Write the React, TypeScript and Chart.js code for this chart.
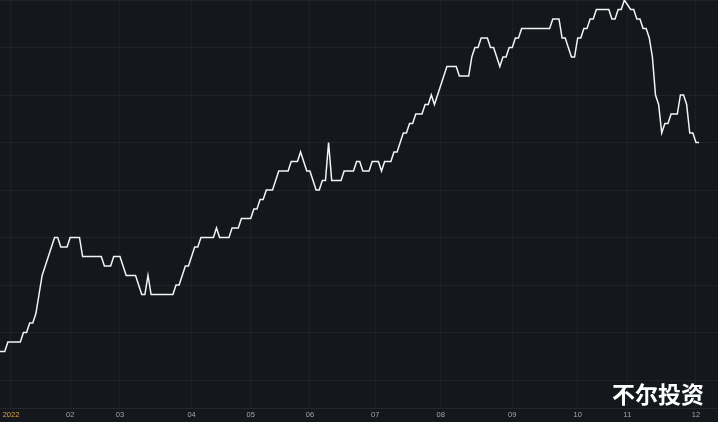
import { useEffect, useRef } from "react";
import { Chart, registerables } from "chart.js";

Chart.register(...registerables);

// Trading-day index (0 = 2021-12-29) of each vertex of the line
const tradingDay = [
  -1, 1, 2, 6, 7, 8, 9, 10, 11, 12, 13, 15, 17, 18, 19, 21, 22, 25, 26, 32,
  33, 35, 36, 38, 40, 43, 45, 46, 47, 48, 55, 56, 57, 59, 60, 62, 63, 64, 68, 69,
  70, 73, 74, 76, 77, 80, 81, 82, 83, 84, 85, 87, 89, 92, 93, 95, 96, 98, 99, 101,
  102, 103, 104, 105, 106, 109, 110, 113, 114, 115, 116, 118, 119, 121, 122, 123, 125, 126, 127, 129,
  130, 131, 132, 133, 135, 136, 137, 138, 139, 143, 146, 147, 150, 151, 152, 153, 154, 156, 157, 158,
  160, 161, 162, 163, 164, 165, 166, 167, 176, 177, 179, 180, 181, 183, 184, 185, 186, 187, 188, 189,
  190, 191, 195, 196, 197, 198, 199, 200, 202, 203, 204, 205, 206, 207, 208, 209, 210, 211, 212, 213,
  214, 215, 217, 218, 219, 220, 221, 222, 223, 224,
];

// Value at each vertex (in price steps)
const level = [
  3, 3, 4, 4, 5, 5, 6, 6, 7, 9, 11, 13, 15, 15, 14, 14, 15, 15, 13, 13,
  12, 12, 13, 13, 11, 11, 9, 9, 11, 9, 9, 10, 10, 12, 12, 14, 14, 15, 15, 16,
  15, 15, 16, 16, 17, 17, 18, 18, 19, 19, 20, 20, 22, 22, 23, 23, 24, 22, 22, 20,
  20, 21, 21, 25, 21, 21, 22, 22, 23, 23, 22, 22, 23, 23, 22, 23, 23, 24, 24, 26,
  26, 27, 27, 28, 28, 29, 29, 30, 29, 33, 33, 32, 32, 34, 35, 35, 36, 36, 35, 35,
  33, 34, 34, 35, 35, 36, 36, 37, 37, 38, 38, 36, 36, 34, 34, 36, 36, 37, 37, 38,
  38, 39, 39, 38, 38, 39, 39, 40, 39, 39, 38, 38, 37, 37, 36, 34, 30, 29, 26, 27,
  27, 28, 28, 30, 30, 29, 26, 26, 25, 25,
];

// First trading day of each month and its label
const monthStartDay = [3, 22, 38, 61, 80, 99, 120, 141, 164, 185, 201, 223];
const monthLabels = ["2022", "02", "03", "04", "05", "06", "07", "08", "09", "10", "11", "12"];

// Horizontal grid levels
const levelGrid = [0, 5, 10, 15, 20, 25, 30, 35, 40];

export default function App() {
  const ref = useRef<HTMLCanvasElement>(null);

  useEffect(() => {
    const chart = new Chart(ref.current as HTMLCanvasElement, {
      type: "line",
      data: {
        datasets: [
          {
            data: tradingDay.map((d, i) => ({ x: d, y: level[i] })),
            borderColor: "#f4f4f4",
            borderWidth: 1.5,
            pointRadius: 0,
            tension: 0,
            fill: false,
          },
        ],
      },
      options: {
        animation: false,
        responsive: false,
        maintainAspectRatio: false,
        layout: { padding: 0 },
        plugins: {
          legend: { display: false },
          tooltip: { enabled: false },
        },
        scales: {
          x: {
            type: "linear",
            min: -0.53,
            max: 230.07,
            afterBuildTicks: (s: any) => {
              s.ticks = monthStartDay.map((v) => ({ value: v }));
            },
            afterFit: (s: any) => {
              s.paddingLeft = 0;
              s.paddingRight = 0;
            },
            grid: {
              color: "rgba(255,255,255,0.035)",
              drawTicks: false,
              tickLength: 0,
            },
            border: { display: true, color: "rgba(255,255,255,0.07)" },
            ticks: {
              autoSkip: false,
              maxRotation: 0,
              minRotation: 0,
              padding: 2.5,
              font: { family: "'Liberation Sans', Arial, sans-serif", size: 7.5 },
              color: (c: any) => (c.index === 0 ? "#e3a13e" : "#a3a6ad"),
              callback: (_v: any, i: number) => monthLabels[i],
            },
          },
          y: {
            type: "linear",
            min: -2.947,
            max: 40,
            afterBuildTicks: (s: any) => {
              s.ticks = levelGrid.map((v) => ({ value: v }));
            },
            ticks: { display: false },
            grid: {
              color: "rgba(255,255,255,0.05)",
              drawTicks: false,
              tickLength: 0,
            },
            border: { display: false },
          },
        },
      },
    } as any);
    return () => chart.destroy();
  }, []);

  return (
    <div
      style={{
        position: "fixed",
        left: 0,
        top: 0,
        width: 718,
        height: 422,
        background: "#14171c",
        overflow: "hidden",
      }}
    >
      <canvas ref={ref} width={718} height={422} style={{ display: "block" }} />
      <div
        style={{
          position: "absolute",
          left: 612,
          top: 380,
          fontFamily: "'Noto Sans CJK SC', sans-serif",
          fontWeight: 700,
          fontSize: 23,
          lineHeight: "26px",
          color: "#ffffff",
          whiteSpace: "nowrap",
        }}
      >
        不尔投资
      </div>
    </div>
  );
}
